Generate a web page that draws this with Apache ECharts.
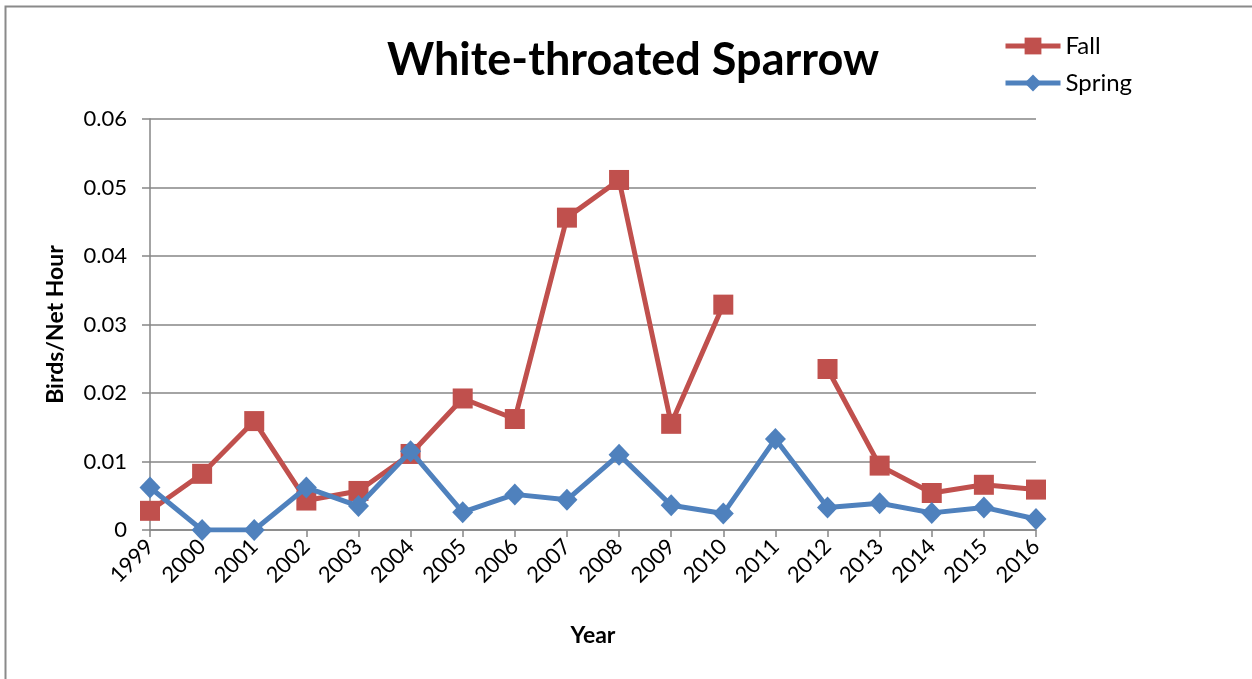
<!DOCTYPE html>
<html>
<head>
<meta charset="utf-8">
<script src="https://cdn.jsdelivr.net/npm/echarts@6/dist/echarts.min.js"></script>
<style>
  html, body { margin: 0; padding: 0; background: #fff; }
  #chart { width: 1252px; height: 679px; }
</style>
</head>
<body>
<div id="chart"></div>
<script>
// Survey years
const years = ['1999','2000','2001','2002','2003','2004','2005','2006','2007','2008',
               '2009','2010','2011','2012','2013','2014','2015','2016'];
// Captures per net hour, fall season (no fall data in 2011)
const fall = [0.0028, 0.0082, 0.0159, 0.0043, 0.0057, 0.0111, 0.0192, 0.0162, 0.0456, 0.0511,
              0.0155, 0.0329, null, 0.0235, 0.0094, 0.0054, 0.0066, 0.0059];
// Captures per net hour, spring season
const spring = [0.0062, 0, 0, 0.0062, 0.0035, 0.0115, 0.0026, 0.0052, 0.0044, 0.0110,
                0.0036, 0.0024, 0.0133, 0.0033, 0.0039, 0.0025, 0.0033, 0.0016];
// Value axis tick labels
const yTicks = ['0', '0.01', '0.02', '0.03', '0.04', '0.05', '0.06'];

const FONT = 'Lato, "Open Sans", sans-serif';
const AXIS_GREY = '#868686';

const chart = echarts.init(document.getElementById('chart'), null, { renderer: 'canvas' });

chart.setOption({
  backgroundColor: '#ffffff',
  animation: false,
  graphic: [{
    // chart frame: only its top and left edges fall inside the page
    type: 'rect',
    shape: { x: 5.5, y: 6.5, width: 1400, height: 800 },
    style: { fill: 'none', stroke: '#8a8a8a', lineWidth: 2 },
    silent: true
  }],
  title: {
    text: 'White-throated Sparrow',
    left: 628,
    top: 33,
    textAlign: 'center',
    textStyle: { fontFamily: FONT, fontWeight: 'bold', fontSize: 45, color: '#000' }
  },
  legend: {
    orient: 'vertical',
    left: 998,
    top: 29,
    itemGap: 13,
    itemWidth: 55,
    itemHeight: 21,
    lineStyle: { width: 5 },
    textStyle: { fontFamily: FONT, fontSize: 24, color: '#000' },
    data: ['Fall', 'Spring']
  },
  grid: { left: 150, right: 216, top: 119, bottom: 149, containLabel: false },
  xAxis: {
    type: 'category',
    data: years,
    boundaryGap: false,
    name: 'Year',
    nameLocation: 'middle',
    nameGap: 94,
    nameTextStyle: { fontFamily: FONT, fontWeight: 'bold', fontSize: 23, color: '#000' },
    axisLine: { lineStyle: { color: AXIS_GREY, width: 1.5 } },
    axisTick: { show: true, length: 7, alignWithLabel: true, lineStyle: { color: AXIS_GREY, width: 1.5 } },
    axisLabel: {
      rotate: 45, interval: 0, margin: 13,
      fontFamily: FONT, fontSize: 22, color: '#000'
    }
  },
  yAxis: {
    type: 'value',
    min: 0, max: 0.06, interval: 0.01,
    name: 'Birds/Net Hour',
    nameLocation: 'middle',
    nameGap: 83,
    nameRotate: 90,
    nameTextStyle: { fontFamily: FONT, fontWeight: 'bold', fontSize: 23, color: '#000' },
    axisLine: { show: true, lineStyle: { color: AXIS_GREY, width: 1.5 } },
    axisTick: { show: true, length: 8, lineStyle: { color: AXIS_GREY, width: 1.5 } },
    splitLine: { show: true, lineStyle: { color: AXIS_GREY, width: 1.5 } },
    axisLabel: {
      margin: 23,
      fontFamily: FONT, fontSize: 22, color: '#000',
      formatter: (v) => yTicks[Math.round(v * 100)]
    }
  },
  series: [
    {
      name: 'Fall',
      type: 'line',
      data: fall,
      connectNulls: false,
      symbol: 'rect',
      symbolSize: 20,
      showAllSymbol: true,
      itemStyle: { color: '#C0504D' },
      lineStyle: { color: '#C0504D', width: 5 },
      z: 2
    },
    {
      name: 'Spring',
      type: 'line',
      data: spring,
      symbol: 'diamond',
      symbolSize: [21, 22],
      showAllSymbol: true,
      itemStyle: { color: '#4F81BD' },
      lineStyle: { color: '#4F81BD', width: 5 },
      z: 3
    }
  ]
});
</script>
</body>
</html>
